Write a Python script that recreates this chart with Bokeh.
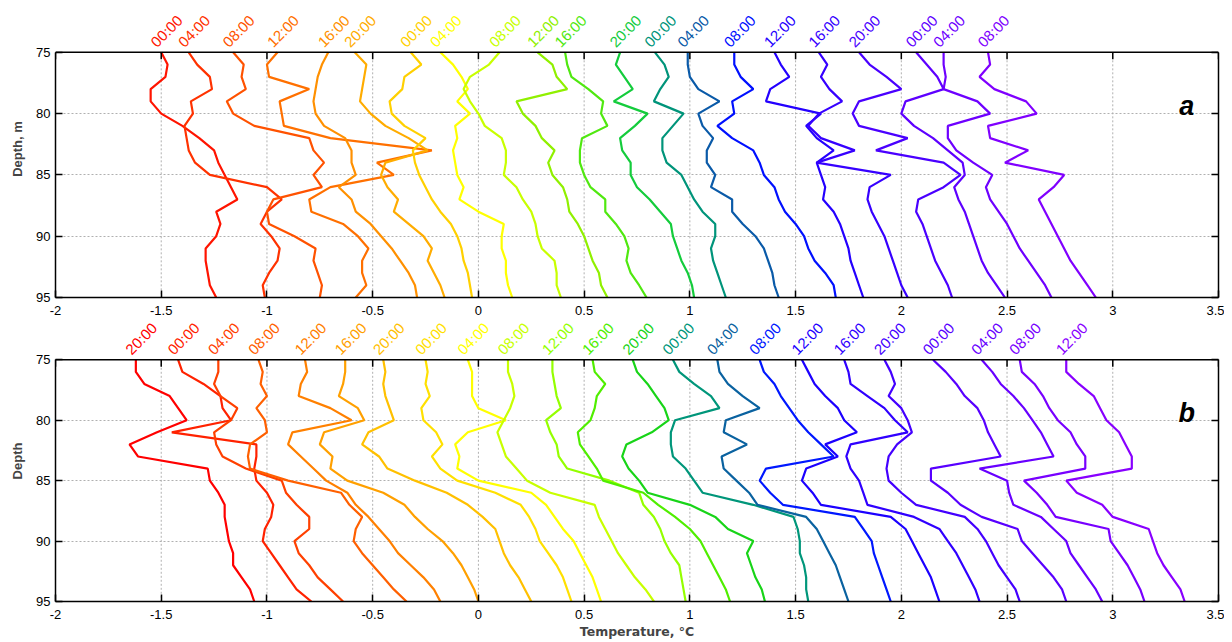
import math
from bokeh.plotting import figure
from bokeh.models import Range1d, LinearAxis, FixedTicker, Label, Span
from bokeh.layouts import column
from bokeh.embed import file_html
from bokeh.resources import INLINE

# ---------------- data ----------------
depth = [75, 76, 77, 78, 79, 80, 81, 82, 83, 84, 85, 86, 87, 88, 89, 90, 91, 92, 93, 94, 95]

x_ticks = [-2, -1.5, -1, -0.5, 0, 0.5, 1, 1.5, 2, 2.5, 3, 3.5]
x_tick_labels = ["-2", "-1.5", "-1", "-0.5", "0", "0.5", "1", "1.5", "2", "2.5", "3", "3.5"]
y_ticks = [75, 80, 85, 90, 95]

# panel a: temperature profiles (deg C) at the depths above
a01 = [-1.50, -1.47, -1.48, -1.55, -1.55, -1.50, -1.40, -1.32, -1.25, -1.23, -1.20, -1.17, -1.14, -1.24, -1.22, -1.24, -1.29, -1.29, -1.28, -1.27, -1.24]
a02 = [-1.37, -1.33, -1.27, -1.26, -1.36, -1.35, -1.39, -1.38, -1.37, -1.34, -1.27, -1.00, -0.93, -1.00, -1.03, -0.98, -0.94, -0.95, -0.99, -1.02, -1.01]
a03 = [-1.16, -1.11, -1.12, -1.10, -1.19, -1.16, -1.06, -0.80, -0.78, -0.73, -0.78, -0.74, -0.97, -1.00, -0.99, -0.87, -0.77, -0.78, -0.76, -0.74, -0.75]
a04 = [-0.95, -1.00, -0.99, -0.80, -0.94, -0.93, -0.92, -0.70, -0.22, -0.48, -0.40, -0.70, -0.80, -0.79, -0.64, -0.57, -0.52, -0.55, -0.55, -0.53, -0.58]
a05 = [-0.71, -0.74, -0.76, -0.77, -0.78, -0.77, -0.73, -0.63, -0.60, -0.60, -0.58, -0.66, -0.60, -0.58, -0.51, -0.46, -0.41, -0.37, -0.33, -0.30, -0.29]
a06 = [-0.585, -0.53, -0.54, -0.55, -0.56, -0.51, -0.44, -0.33, -0.24, -0.44, -0.46, -0.43, -0.38, -0.40, -0.33, -0.26, -0.22, -0.24, -0.21, -0.18, -0.16]
a07 = [-0.32, -0.27, -0.35, -0.36, -0.42, -0.41, -0.35, -0.25, -0.31, -0.30, -0.28, -0.25, -0.22, -0.18, -0.13, -0.10, -0.08, -0.07, -0.05, -0.04, -0.03]
a08 = [-0.18, -0.12, -0.08, -0.05, -0.10, -0.04, -0.11, -0.10, -0.12, -0.11, -0.10, -0.07, -0.09, 0.00, 0.12, 0.11, 0.11, 0.13, 0.13, 0.14, 0.16]
a09 = [0.10, 0.05, -0.04, -0.07, -0.04, 0.00, 0.03, 0.11, 0.13, 0.13, 0.12, 0.18, 0.21, 0.25, 0.27, 0.28, 0.30, 0.36, 0.37, 0.37, 0.39]
a10 = [0.28, 0.35, 0.37, 0.42, 0.18, 0.21, 0.27, 0.30, 0.36, 0.33, 0.35, 0.40, 0.42, 0.43, 0.47, 0.50, 0.52, 0.54, 0.57, 0.58, 0.61]
a11 = [0.41, 0.42, 0.44, 0.52, 0.59, 0.58, 0.61, 0.49, 0.48, 0.48, 0.50, 0.53, 0.60, 0.60, 0.65, 0.69, 0.71, 0.70, 0.72, 0.76, 0.795]
a12 = [0.67, 0.65, 0.69, 0.73, 0.64, 0.80, 0.74, 0.67, 0.68, 0.72, 0.72, 0.75, 0.81, 0.86, 0.91, 0.92, 0.94, 0.96, 0.99, 1.01, 1.02]
a13 = [0.835, 0.88, 0.90, 0.86, 0.83, 0.97, 0.92, 0.87, 0.87, 0.89, 0.96, 0.99, 1.02, 1.06, 1.12, 1.12, 1.10, 1.11, 1.13, 1.15, 1.17]
a14 = [0.99, 0.99, 1.00, 1.04, 1.14, 1.04, 1.06, 1.11, 1.08, 1.08, 1.12, 1.10, 1.20, 1.20, 1.25, 1.31, 1.35, 1.37, 1.39, 1.40, 1.42]
a15 = [1.21, 1.21, 1.24, 1.30, 1.20, 1.21, 1.13, 1.20, 1.30, 1.33, 1.35, 1.40, 1.42, 1.45, 1.50, 1.54, 1.56, 1.59, 1.64, 1.68, 1.69]
a16 = [1.40, 1.43, 1.47, 1.38, 1.36, 1.62, 1.55, 1.60, 1.68, 1.60, 1.62, 1.64, 1.63, 1.68, 1.71, 1.73, 1.75, 1.76, 1.78, 1.80, 1.82]
a17 = [1.61, 1.65, 1.62, 1.66, 1.72, 1.61, 1.56, 1.62, 1.78, 1.60, 1.95, 1.85, 1.84, 1.86, 1.89, 1.92, 1.94, 1.96, 1.98, 2.00, 2.03]
a18 = [1.80, 1.85, 1.93, 2.00, 1.80, 1.77, 1.80, 2.03, 1.88, 2.20, 2.28, 2.20, 2.08, 2.07, 2.10, 2.12, 2.14, 2.16, 2.19, 2.22, 2.24]
a19 = [2.07, 2.12, 2.17, 2.20, 2.02, 2.00, 2.06, 2.15, 2.22, 2.29, 2.30, 2.25, 2.27, 2.30, 2.32, 2.34, 2.36, 2.38, 2.41, 2.45, 2.49]
a20 = [2.20, 2.20, 2.21, 2.20, 2.36, 2.42, 2.22, 2.22, 2.26, 2.34, 2.43, 2.40, 2.42, 2.46, 2.50, 2.53, 2.56, 2.60, 2.64, 2.68, 2.71]
a21 = [2.41, 2.42, 2.37, 2.44, 2.59, 2.64, 2.41, 2.42, 2.60, 2.49, 2.77, 2.72, 2.65, 2.68, 2.71, 2.74, 2.77, 2.80, 2.84, 2.88, 2.92]

times_a = ["00:00", "04:00", "08:00", "12:00", "16:00", "20:00", "00:00", "04:00", "08:00", "12:00", "16:00",
           "20:00", "00:00", "04:00", "08:00", "12:00", "16:00", "20:00", "00:00", "04:00", "08:00"]

# panel b
b01 = [-1.62, -1.62, -1.58, -1.46, -1.42, -1.38, -1.52, -1.65, -1.61, -1.28, -1.27, -1.23, -1.20, -1.20, -1.19, -1.18, -1.16, -1.16, -1.12, -1.08, -1.06]
b02 = [-1.42, -1.40, -1.30, -1.22, -1.21, -1.17, -1.45, -1.05, -1.05, -1.06, -1.05, -1.00, -0.97, -0.98, -1.01, -1.02, -0.98, -0.94, -0.90, -0.86, -0.79]
b03 = [-1.23, -1.23, -1.25, -1.22, -1.14, -1.17, -1.25, -1.24, -1.21, -1.10, -0.93, -0.91, -0.86, -0.80, -0.80, -0.87, -0.85, -0.80, -0.76, -0.70, -0.64]
b04 = [-1.04, -1.02, -1.03, -1.00, -1.05, -1.01, -1.00, -1.08, -1.09, -1.08, -0.90, -0.65, -0.61, -0.55, -0.58, -0.59, -0.55, -0.50, -0.45, -0.40, -0.34]
b05 = [-0.82, -0.81, -0.84, -0.85, -0.70, -0.60, -0.88, -0.90, -0.84, -0.78, -0.72, -0.62, -0.58, -0.52, -0.47, -0.42, -0.38, -0.32, -0.26, -0.21, -0.18]
b06 = [-0.63, -0.63, -0.64, -0.66, -0.57, -0.54, -0.73, -0.75, -0.69, -0.70, -0.62, -0.45, -0.35, -0.30, -0.24, -0.17, -0.12, -0.08, -0.05, -0.02, 0.00]
b07 = [-0.45, -0.44, -0.45, -0.44, -0.42, -0.40, -0.52, -0.55, -0.47, -0.43, -0.30, -0.15, -0.05, 0.02, 0.08, 0.10, 0.12, 0.15, 0.19, 0.22, 0.25]
b08 = [-0.25, -0.24, -0.25, -0.23, -0.27, -0.26, -0.20, -0.17, -0.22, -0.18, -0.10, 0.08, 0.20, 0.24, 0.27, 0.29, 0.33, 0.37, 0.40, 0.42, 0.44]
b09 = [-0.05, -0.03, -0.03, -0.03, 0.00, 0.13, -0.05, -0.11, -0.09, -0.10, 0.00, 0.25, 0.32, 0.36, 0.40, 0.45, 0.48, 0.51, 0.54, 0.56, 0.58]
b10 = [0.14, 0.14, 0.16, 0.17, 0.15, 0.12, 0.09, 0.11, 0.13, 0.18, 0.23, 0.34, 0.55, 0.57, 0.60, 0.63, 0.66, 0.70, 0.74, 0.79, 0.83]
b11 = [0.35, 0.35, 0.36, 0.37, 0.39, 0.32, 0.34, 0.37, 0.38, 0.42, 0.62, 0.76, 0.78, 0.83, 0.86, 0.88, 0.91, 0.95, 0.96, 0.97, 0.98]
b12 = [0.54, 0.55, 0.60, 0.56, 0.55, 0.53, 0.47, 0.48, 0.52, 0.56, 0.59, 0.78, 0.85, 0.93, 1.00, 1.05, 1.08, 1.11, 1.14, 1.17, 1.19]
b13 = [0.73, 0.75, 0.80, 0.84, 0.88, 0.90, 0.82, 0.70, 0.68, 0.71, 0.76, 0.80, 1.00, 1.12, 1.18, 1.30, 1.27, 1.29, 1.31, 1.34, 1.355]
b14 = [0.92, 0.95, 1.02, 1.10, 1.14, 0.93, 0.91, 0.91, 0.92, 0.98, 1.02, 1.06, 1.30, 1.49, 1.51, 1.52, 1.52, 1.54, 1.55, 1.55, 1.56]
b15 = [1.13, 1.14, 1.18, 1.25, 1.33, 1.17, 1.16, 1.27, 1.15, 1.16, 1.22, 1.28, 1.32, 1.55, 1.60, 1.63, 1.66, 1.69, 1.71, 1.73, 1.75]
b16 = [1.33, 1.35, 1.40, 1.43, 1.47, 1.51, 1.56, 1.62, 1.68, 1.36, 1.33, 1.38, 1.44, 1.78, 1.82, 1.86, 1.87, 1.89, 1.91, 1.93, 1.95]
b17 = [1.53, 1.56, 1.59, 1.64, 1.70, 1.73, 1.79, 1.64, 1.70, 1.55, 1.53, 1.58, 1.62, 1.95, 2.02, 2.05, 2.08, 2.11, 2.14, 2.16, 2.18]
b18 = [1.73, 1.75, 1.76, 1.84, 1.92, 1.97, 2.03, 1.76, 1.74, 1.76, 1.80, 1.82, 1.84, 2.06, 2.18, 2.22, 2.26, 2.29, 2.32, 2.35, 2.37]
b19 = [1.92, 1.95, 1.97, 1.94, 2.00, 2.03, 2.05, 1.98, 1.94, 1.93, 1.94, 2.00, 2.07, 2.30, 2.36, 2.40, 2.43, 2.46, 2.50, 2.54, 2.56]
b20 = [2.15, 2.21, 2.26, 2.30, 2.36, 2.39, 2.41, 2.44, 2.47, 2.14, 2.14, 2.22, 2.28, 2.38, 2.55, 2.57, 2.62, 2.67, 2.72, 2.76, 2.78]
b21 = [2.38, 2.43, 2.47, 2.53, 2.58, 2.62, 2.66, 2.69, 2.72, 2.37, 2.50, 2.51, 2.53, 2.66, 2.72, 2.78, 2.80, 2.84, 2.88, 2.92, 2.95]
b22 = [2.56, 2.57, 2.63, 2.67, 2.70, 2.74, 2.80, 2.83, 2.87, 2.87, 2.58, 2.64, 2.69, 2.73, 2.98, 2.99, 3.03, 3.07, 3.10, 3.13, 3.15]
b23 = [2.78, 2.78, 2.84, 2.91, 2.94, 2.97, 3.03, 3.06, 3.09, 3.09, 2.78, 2.83, 2.95, 3.00, 3.17, 3.19, 3.21, 3.24, 3.28, 3.32, 3.34]

times_b = ["20:00", "00:00", "04:00", "08:00", "12:00", "16:00", "20:00", "00:00", "04:00", "08:00", "12:00", "16:00",
           "20:00", "00:00", "04:00", "08:00", "12:00", "16:00", "20:00", "00:00", "04:00", "08:00", "12:00"]

# ---------------- styles ----------------
colors_a = ["#ff1400", "#ff3200", "#ff5200", "#ff7000", "#ff9000", "#ffac00", "#ffd000", "#ffff00", "#c8ff00",
            "#90f000", "#50e810", "#14cc3c", "#00947a", "#0a5aa8", "#0010ff", "#2400ff", "#3600ff", "#4a00ff",
            "#5e00ff", "#6e00ff", "#8000ff"]
colors_b = ["#ff0000", "#ff2200", "#ff4000", "#ff6000", "#ff8000", "#ffa000", "#ffc000", "#ffe000", "#ffff00",
            "#c8ff00", "#94ff00", "#50ee00", "#18d418", "#00967a", "#0a62a0", "#0018ff", "#1c00ff", "#3000ff",
            "#4400ff", "#5800ff", "#6800ff", "#7800ff", "#8800ff"]

curves_a = [a01, a02, a03, a04, a05, a06, a07, a08, a09, a10, a11, a12, a13, a14, a15, a16, a17, a18, a19, a20, a21]
curves_b = [b01, b02, b03, b04, b05, b06, b07, b08, b09, b10, b11, b12, b13, b14, b15, b16, b17, b18, b19, b20,
            b21, b22, b23]

FONT = "Liberation Sans"
WIDTH = 1224
LEFT = 55
RIGHT = 6
BOX_PX = 246          # pixel height of the 75-95 m box
TICK_PX = 7


def make_panel(curves, times, colors, letter, ylabel, xlabel, header_px, height, bottom_border):
    px_per_m = BOX_PX / (depth[-1] - depth[0])
    y_top = depth[0] - header_px / px_per_m
    p = figure(width=WIDTH, height=height, x_range=Range1d(x_ticks[0], x_ticks[-1]),
               y_range=Range1d(depth[-1], y_top),
               output_backend="svg", toolbar_location=None,
               min_border_left=LEFT, min_border_right=RIGHT, min_border_top=0,
               min_border_bottom=bottom_border)
    p.outline_line_color = None
    xt = FixedTicker(ticks=x_ticks)
    yt = FixedTicker(ticks=y_ticks)
    p.xaxis.ticker = xt
    p.yaxis.ticker = yt
    p.ygrid.ticker = yt
    p.xgrid.visible = False
    p.ygrid.grid_line_color = "#b0b0b0"
    p.ygrid.grid_line_dash = "2 2"
    p.ygrid.grid_line_width = 1
    p.yaxis.bounds = (depth[0], depth[-1])
    p.xaxis.major_label_overrides = dict(zip(x_ticks, x_tick_labels))
    for ax in (p.xaxis, p.yaxis):
        ax.major_tick_in = TICK_PX
        ax.major_tick_out = 0
        ax.minor_tick_in = 0
        ax.minor_tick_out = 0
        ax.axis_line_width = 1.5
        ax.major_tick_line_width = 1.5
        ax.major_label_text_font = FONT
        ax.major_label_text_font_size = "13px"
        ax.major_label_text_color = "black"
    p.xaxis.major_label_standoff = 8
    p.yaxis.major_label_standoff = 5
    p.yaxis.axis_label = ylabel
    p.yaxis.axis_label_text_font = FONT
    p.yaxis.axis_label_text_font_style = "bold"
    p.yaxis.axis_label_text_font_size = "13px"
    p.yaxis.axis_label_standoff = 8
    if xlabel:
        p.xaxis.axis_label = xlabel
        p.xaxis.axis_label_text_font = "DejaVu Sans"
        p.xaxis.axis_label_text_font_style = "bold"
        p.xaxis.axis_label_text_font_size = "12.5px"
        p.xaxis.axis_label_standoff = 2
    right = LinearAxis(ticker=yt, bounds=(depth[0], depth[-1]), major_label_text_font_size="0px",
                       major_label_text_color=None, major_label_standoff=0, major_tick_in=TICK_PX,
                       major_tick_out=0, minor_tick_in=0, minor_tick_out=0, axis_line_width=1.5,
                       major_tick_line_width=1.5)
    p.add_layout(right, "right")

    # vertical dotted grid lines limited to the box, top edge of the box and its inward ticks
    n = len(x_ticks)
    p.segment(x0=x_ticks, y0=[depth[0]] * n, x1=x_ticks, y1=[depth[-1]] * n,
              line_color="#b0b0b0", line_dash="2 2", line_width=1)
    for vals, c in zip(curves, colors):
        p.line(vals, depth, line_color=c, line_width=2.2)
    p.add_layout(Span(location=depth[0], dimension="width", line_color="black", line_width=1.5))
    p.segment(x0=x_ticks, y0=[depth[0]] * n, x1=x_ticks, y1=[depth[0] + TICK_PX / px_per_m] * n,
              line_color="black", line_width=1.5)

    # rotated time labels above each profile's top
    for vals, t, c in zip(curves, times, colors):
        p.add_layout(Label(x=vals[0], y=depth[0], text=t, angle=45, angle_units="deg",
                           text_color=c, text_font=FONT, text_font_size="15px",
                           text_align="left", text_baseline="bottom", x_offset=-2, y_offset=2))
    p.add_layout(Label(x=3.35, y=79.4, text=letter, text_font=FONT, text_font_style="bold italic",
                       text_font_size="27px", text_align="center", text_baseline="middle",
                       text_color="black"))
    return p


pa = make_panel(curves_a, times_a, colors_a, "a", "Depth, m", None, 52, 320, 23)
pb = make_panel(curves_b, times_b, colors_b, "b", "Depth", "Temperature, °C", 40, 321, 35)

layout = column(pa, pb, spacing=0)
open("out.html", "w").write(file_html(layout, INLINE))
